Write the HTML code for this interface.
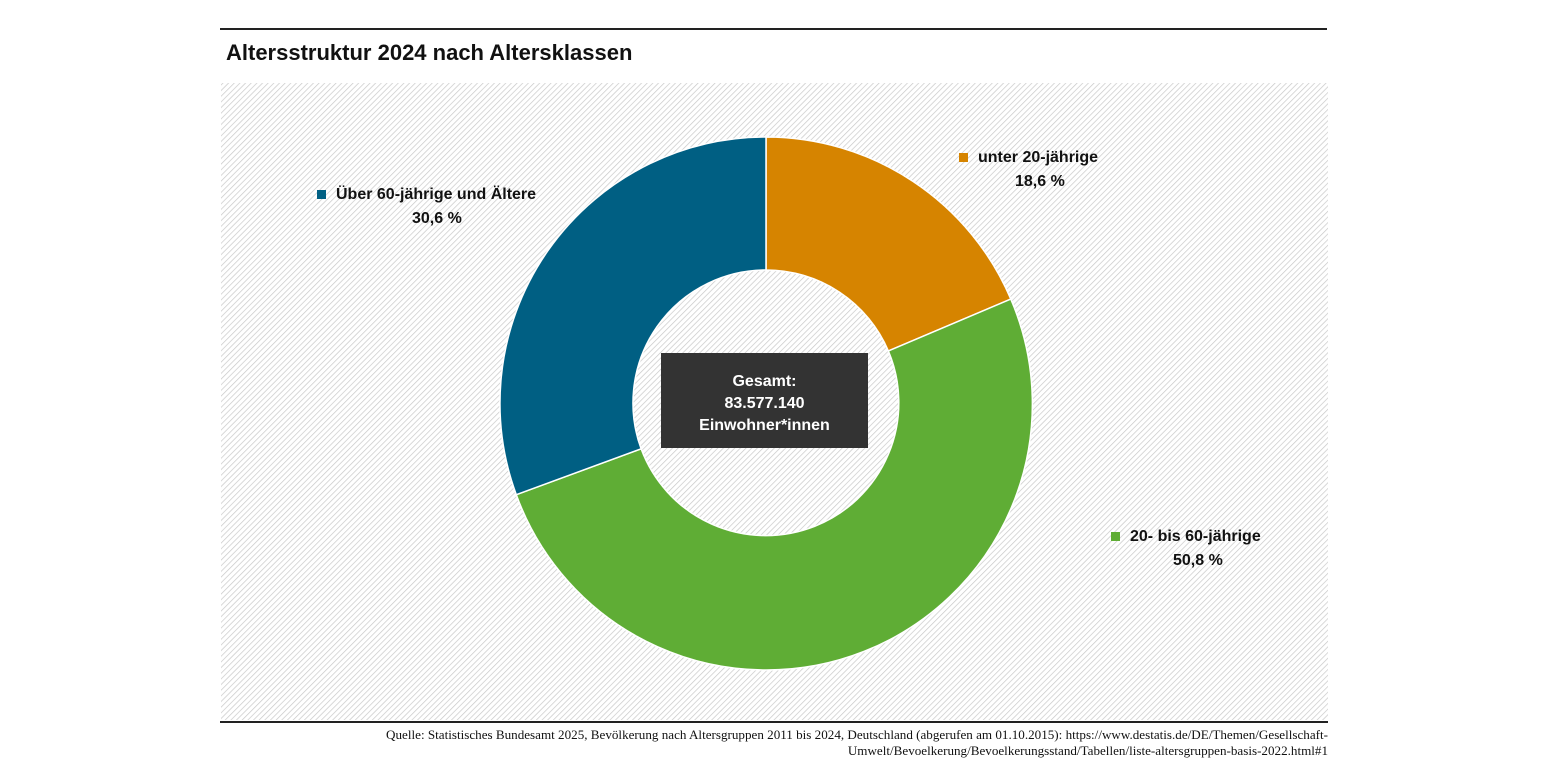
<!DOCTYPE html>
<html><head><meta charset="utf-8"><style>
body{margin:0;width:1545px;height:775px;background:#fff;font-family:"Liberation Sans",sans-serif;position:relative;overflow:hidden}
.t{position:absolute;white-space:nowrap}
</style></head><body>
<div style="position:absolute;left:220px;top:28px;width:1107px;height:2px;background:#222"></div>
<div class="t" style="left:226px;top:40px;font-size:22px;font-weight:bold;color:#111">Altersstruktur 2024 nach Altersklassen</div>
<svg style="position:absolute;left:0;top:0" width="1545" height="775">
<defs><pattern id="h" width="4" height="4" patternUnits="userSpaceOnUse" patternTransform="rotate(45)">
<rect width="4" height="4" fill="#fff"/><line x1="0" y1="0" x2="0" y2="4" stroke="#c8c8c8" stroke-width="1.4"/></pattern></defs>
<rect x="221" y="83" width="1107" height="637" fill="url(#h)"/>
<path d="M766 137 A266 266 0 0 1 1010.8 299.1 L888.4 351 A133 133 0 0 0 766 270 Z" fill="#d68400" stroke="#fff" stroke-width="1.5"/>
<path d="M1010.8 299.1 A266 266 0 1 1 516.3 494.7 L641.1 448.8 A133 133 0 1 0 888.4 351 Z" fill="#5fad35" stroke="#fff" stroke-width="1.5"/>
<path d="M516.3 494.7 A266 266 0 0 1 766 137 L766 270 A133 133 0 0 0 641.1 448.8 Z" fill="#005f83" stroke="#fff" stroke-width="1.5"/>
<rect x="661" y="353" width="207" height="95" fill="#333"/>
<rect x="959" y="153" width="9" height="9" fill="#d68400"/>
<rect x="317" y="190" width="9" height="9" fill="#005f83"/>
<rect x="1111" y="532" width="9" height="9" fill="#5fad35"/>
</svg>
<div class="t" style="left:661px;top:371px;width:207px;text-align:center;color:#fff;font-weight:bold;font-size:16px;line-height:22px">Gesamt:<br>83.577.140<br>Einwohner*innen</div>
<div class="t" style="left:978px;top:149px;font-size:16px;font-weight:bold;color:#111">unter 20-jährige</div>
<div class="t" style="left:1015px;top:173px;font-size:16px;font-weight:bold;color:#111">18,6 %</div>
<div class="t" style="left:336px;top:186px;font-size:16px;font-weight:bold;color:#111">Über 60-jährige und Ältere</div>
<div class="t" style="left:412px;top:210px;font-size:16px;font-weight:bold;color:#111">30,6 %</div>
<div class="t" style="left:1130px;top:528px;font-size:16px;font-weight:bold;color:#111">20- bis 60-jährige</div>
<div class="t" style="left:1173px;top:552px;font-size:16px;font-weight:bold;color:#111">50,8 %</div>
<div style="position:absolute;left:220px;top:721px;width:1108px;height:2px;background:#222"></div>
<div class="t" style="right:217px;top:727px;text-align:right;font-family:'Liberation Serif',serif;font-size:13.1px;line-height:16px;color:#111">Quelle: Statistisches Bundesamt 2025, Bevölkerung nach Altersgruppen 2011 bis 2024, Deutschland (abgerufen am 01.10.2015): https://www.destatis.de/DE/Themen/Gesellschaft-<br>Umwelt/Bevoelkerung/Bevoelkerungsstand/Tabellen/liste-altersgruppen-basis-2022.html#1</div>
</body></html>
